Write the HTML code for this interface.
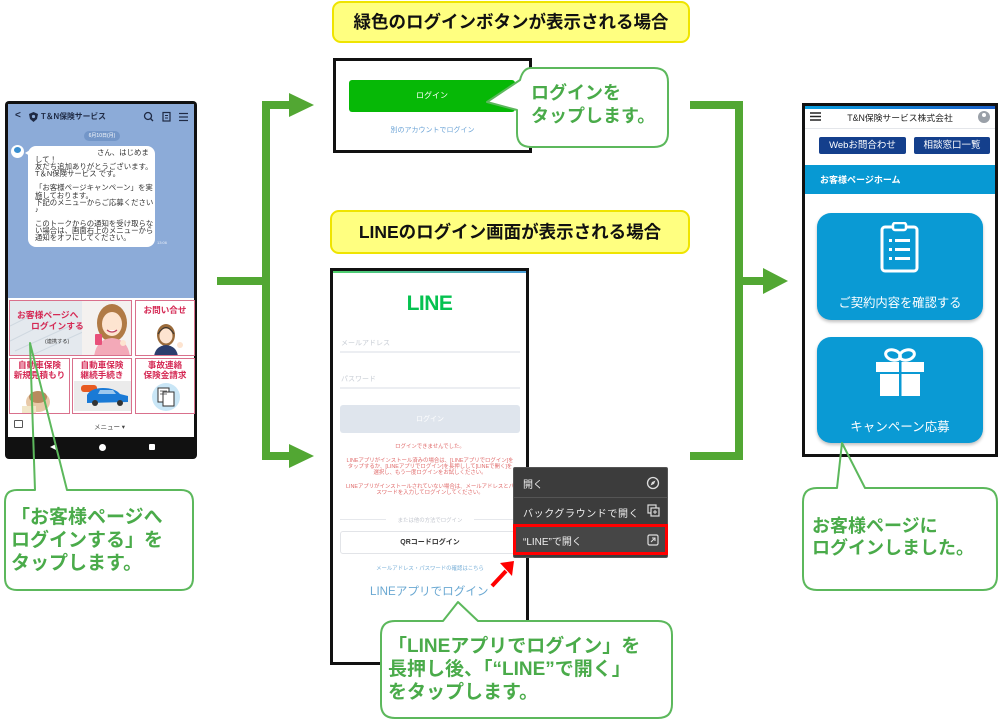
<!DOCTYPE html>
<html><head><meta charset="utf-8">
<style>
*{margin:0;padding:0;box-sizing:border-box}
body{width:1000px;height:720px;background:#fff;position:relative;overflow:hidden;font-family:"Liberation Sans","Noto Sans CJK JP",sans-serif}
.a{position:absolute}
.t{position:absolute;white-space:nowrap}
.lab{position:absolute;background:#ffff80;border:2px solid #efe400;border-radius:9px;text-align:center;font-weight:bold;font-size:17.5px;color:#111}
.cell{position:absolute;border:1.5px solid #d9708c;background:#fff;overflow:hidden}
.rt{position:absolute;white-space:nowrap;color:#d52a55;font-weight:bold;font-size:8.6px;line-height:10px;text-align:center}
.ct{position:absolute;white-space:nowrap;color:#4aab4a;font-weight:bold}
.red{position:absolute;left:333px;width:194px;text-align:center;white-space:nowrap;color:#e06a6a;font-size:5.4px;line-height:6px}
</style></head><body>

<!-- yellow labels -->
<div class="lab" style="left:332px;top:1px;width:358px;height:42px;line-height:38px;">緑色のログインボタンが表示される場合</div>
<div class="lab" style="left:330px;top:210px;width:360px;height:44px;line-height:40px;">LINEのログイン画面が表示される場合</div>

<!-- ========== LEFT PHONE ========== -->
<div class="a" style="left:5px;top:101px;width:192px;height:358px;background:#111;border-radius:4px;"></div>
<div class="a" style="left:8px;top:104px;width:186px;height:194px;background:#8cabd8;"></div>
<!-- header -->
<div class="t" style="left:15px;top:110px;font-size:10px;color:#1f2a44;font-weight:bold;">&lt;</div>
<svg class="a" style="left:29px;top:112px" width="9" height="10"><path d="M4.5 0 L9 2 L8 7 L4.5 10 L1 7 L0 2Z" fill="#1f2a44"/><circle cx="4.5" cy="4.5" r="1.6" fill="#8cabd8"/></svg>
<div class="t" style="left:41px;top:111px;font-size:7.8px;color:#1f2a44;font-weight:bold;">T＆N保険サービス</div>
<svg class="a" style="left:143px;top:111px" width="48" height="12">
<circle cx="5" cy="5" r="3.5" fill="none" stroke="#1f2a44" stroke-width="1.3"/><line x1="7.5" y1="7.5" x2="10" y2="10" stroke="#1f2a44" stroke-width="1.3"/>
<rect x="20" y="1.5" width="7" height="8.5" fill="none" stroke="#1f2a44" stroke-width="1.2"/><line x1="22" y1="4.5" x2="25" y2="4.5" stroke="#1f2a44"/><line x1="22" y1="7" x2="25" y2="7" stroke="#1f2a44"/>
<line x1="36" y1="2.5" x2="45" y2="2.5" stroke="#1f2a44" stroke-width="1.2"/><line x1="36" y1="6" x2="45" y2="6" stroke="#1f2a44" stroke-width="1.2"/><line x1="36" y1="9.5" x2="45" y2="9.5" stroke="#1f2a44" stroke-width="1.2"/>
</svg>
<div class="a" style="left:84px;top:131px;width:36px;height:10px;border-radius:5px;background:#7396c8;"></div>
<div class="t" style="left:84px;top:132px;width:36px;text-align:center;font-size:5px;line-height:8px;color:#fff;">6月10日(月)</div>
<!-- avatar -->
<div class="a" style="left:11px;top:145px;width:13px;height:13px;border-radius:50%;background:#fff;"></div>
<div class="a" style="left:14px;top:147px;width:7px;height:6px;border-radius:50%;background:#3a8fd0;"></div>
<!-- bubble -->
<div class="a" style="left:28px;top:146px;width:127px;height:101px;background:#fff;border-radius:8px;"></div>
<div class="a" style="left:25px;top:150px;width:0;height:0;border-top:3px solid transparent;border-bottom:3px solid transparent;border-right:5px solid #fff;"></div>
<div class="t" style="left:35px;top:149px;font-size:7.4px;line-height:7.1px;color:#333;">
<span style="padding-left:62px">さん、はじめま</span><br>して！<br>友だち追加ありがとうございます。<br>T＆N保険サービス です。<br><br>「お客様ページキャンペーン」を実<br>施しております。<br>下記のメニューからご応募ください<br>♪<br><br>このトークからの通知を受け取らな<br>い場合は、画面右上のメニューから<br>通知をオフにしてください。</div>
<div class="t" style="left:157px;top:240px;font-size:4px;color:#e8eef8;">13:06</div>
<!-- menu area -->
<div class="a" style="left:8px;top:298px;width:186px;height:139px;background:#fff;"></div>
<!-- big cell -->
<div class="cell" style="left:9px;top:300px;width:123px;height:56px;background:#e4e9ee;">
 <svg class="a" style="left:0;top:0" width="123" height="56">
  <path d="M0 40 L40 20 M5 50 L60 25 M20 55 L75 30 M0 25 L30 10" stroke="#cfd8e0" stroke-width="1"/>
  <rect x="72" y="0" width="51" height="56" fill="#f4f1ef"/>
  <ellipse cx="102" cy="22" rx="15" ry="19" fill="#b07a45"/>
  <path d="M84 56 Q86 38 102 37 Q118 38 120 56Z" fill="#f3a9b8"/>
  <ellipse cx="102" cy="23" rx="10" ry="12" fill="#fde4d0"/>
  <path d="M92 14 Q102 4 112 14 Q108 9 102 10 Q96 10 92 16Z" fill="#b07a45"/>
  <path d="M97 29 Q102 33 107 29" stroke="#c04060" stroke-width="1.2" fill="#fff"/>
  <rect x="85" y="33" width="7" height="11" rx="1" fill="#e8507a"/>
  <circle cx="113" cy="42" r="3" fill="#fde4d0"/>
 </svg>
</div>
<div class="rt" style="left:17px;top:310px;font-size:8.8px;">お客様ページへ</div>
<div class="rt" style="left:31px;top:321px;font-size:8.8px;">ログインする</div>
<div class="t" style="left:45px;top:338px;font-size:5.2px;color:#333;">(連携する)</div>
<!-- contact cell -->
<div class="cell" style="left:135px;top:300px;width:60px;height:56px;">
 <svg class="a" style="left:0;top:0" width="60" height="56">
  <ellipse cx="30" cy="34" rx="9" ry="11" fill="#9a6a3a"/>
  <path d="M18 56 Q19 45 30 44 Q41 45 42 56Z" fill="#2c3e6e"/>
  <ellipse cx="30" cy="35" rx="6.5" ry="7.5" fill="#fde4d0"/>
  <path d="M22 33 Q30 20 38 33" stroke="#333" stroke-width="1" fill="none"/>
  <circle cx="44" cy="44" r="3" fill="#fde4d0"/>
 </svg>
</div>
<div class="rt" style="left:135px;top:305px;width:60px;">お問い合せ</div>
<!-- row 2 -->
<div class="cell" style="left:9px;top:358px;width:61px;height:56px;">
 <svg class="a" style="left:0;top:0" width="61" height="56">
  <ellipse cx="28" cy="43" rx="12" ry="10" fill="#e8c9a8"/>
  <ellipse cx="28" cy="38" rx="9" ry="6" fill="#b88a5e"/>
  <rect x="12" y="47" width="14" height="8" fill="#f1e6c8"/>
 </svg>
</div>
<div class="rt" style="left:10px;top:360px;width:59px;">自動車保険<br>新規見積もり</div>
<div class="cell" style="left:72px;top:358px;width:60px;height:56px;">
 <svg class="a" style="left:0;top:0" width="60" height="56">
  <rect x="1" y="22" width="57" height="30" fill="#ebebeb"/>
  <rect x="8" y="26" width="16" height="7" rx="3" fill="#e85a20"/>
  <path d="M14 36 Q18 29 30 29 Q42 29 47 35 L55 37 L55 43 L14 44Z" fill="#1a7ad6"/>
  <circle cx="22" cy="44" r="3" fill="#333"/><circle cx="47" cy="44" r="3" fill="#333"/>
  <path d="M27 31 L40 31 L43 35 L25 35Z" fill="#9cc8ee"/>
 </svg>
</div>
<div class="rt" style="left:72px;top:360px;width:60px;">自動車保険<br>継続手続き</div>
<div class="cell" style="left:135px;top:358px;width:60px;height:56px;">
 <svg class="a" style="left:0;top:0" width="60" height="56">
  <circle cx="30" cy="38" r="14" fill="#c9e6f6"/>
  <rect x="22" y="29" width="11" height="14" fill="#fff" stroke="#333" stroke-width="1"/>
  <rect x="27" y="33" width="11" height="14" fill="#fff" stroke="#333" stroke-width="1"/>
  <line x1="24" y1="32" x2="31" y2="32" stroke="#333" stroke-width=".7"/><line x1="24" y1="35" x2="31" y2="35" stroke="#333" stroke-width=".7"/>
 </svg>
</div>
<div class="rt" style="left:135px;top:360px;width:60px;">事故連絡<br>保険金請求</div>
<!-- menu bar -->
<div class="a" style="left:14px;top:420px;width:9px;height:8px;border:1px solid #555;border-radius:1px;"></div>
<div class="t" style="left:94px;top:421px;font-size:6.5px;color:#444;">メニュー ▾</div>
<!-- nav -->
<div class="a" style="left:99px;top:444px;width:7px;height:7px;border-radius:50%;background:#fff;"></div>
<div class="a" style="left:149px;top:444px;width:6px;height:6px;background:#fff;border-radius:1px;"></div>
<div class="a" style="left:50px;top:444px;width:0;height:0;border-top:3.5px solid transparent;border-bottom:3.5px solid transparent;border-right:6px solid #fff;"></div>

<!-- ========== MIDDLE TOP ========== -->
<div class="a" style="left:333px;top:58px;width:199px;height:95px;border:3px solid #111;background:#fff;"></div>
<div class="a" style="left:349px;top:80px;width:166px;height:32px;background:#06b806;border-radius:3px;"></div>
<div class="t" style="left:349px;top:90px;width:166px;text-align:center;font-size:8px;color:#fff;">ログイン</div>
<div class="t" style="left:333px;top:125px;width:199px;text-align:center;font-size:7px;color:#6ba3d6;">別のアカウントでログイン</div>

<!-- ========== MIDDLE BOTTOM ========== -->
<div class="a" style="left:330px;top:268px;width:199px;height:397px;border:3px solid #111;background:#fff;"></div>
<div class="a" style="left:333px;top:271px;width:193px;height:2px;background:linear-gradient(90deg,#4fd06a,#4a9fd8);"></div>
<div class="t" style="left:330px;top:292px;width:199px;text-align:center;font-size:21px;font-weight:bold;color:#06c250;letter-spacing:-0.5px;font-family:'Liberation Sans',sans-serif;">LINE</div>
<div class="t" style="left:341px;top:338px;font-size:7px;color:#c9ced6;">メールアドレス</div>
<div class="a" style="left:340px;top:351px;width:180px;height:1.5px;background:#eceef2;"></div>
<div class="t" style="left:341px;top:374px;font-size:7px;color:#c9ced6;">パスワード</div>
<div class="a" style="left:340px;top:387px;width:180px;height:1.5px;background:#eceef2;"></div>
<div class="a" style="left:340px;top:405px;width:180px;height:28px;background:#dfe5ed;border-radius:3px;"></div>
<div class="t" style="left:340px;top:414px;width:180px;text-align:center;font-size:7px;color:#fff;">ログイン</div>
<div class="red" style="top:444px;">ログインできませんでした。</div>
<div class="red" style="top:458px;">LINEアプリがインストール済みの場合は、[LINEアプリでログイン]を<br>タップするか、[LINEアプリでログイン]を長押しして[LINEで開く]を<br>選択し、もう一度ログインをお試しください。</div>
<div class="red" style="top:484px;">LINEアプリがインストールされていない場合は、メールアドレスとパ<br>スワードを入力してログインしてください。</div>
<div class="a" style="left:340px;top:519px;width:46px;height:1px;background:#e6e8ec;"></div>
<div class="a" style="left:474px;top:519px;width:46px;height:1px;background:#e6e8ec;"></div>
<div class="t" style="left:333px;top:516px;width:194px;text-align:center;font-size:5.4px;color:#c2c6ce;">または他の方法でログイン</div>
<div class="a" style="left:340px;top:531px;width:180px;height:23px;border:1px solid #e2e4e8;border-radius:3px;"></div>
<div class="t" style="left:340px;top:537px;width:180px;text-align:center;font-size:7px;font-weight:bold;color:#333;">QRコードログイン</div>
<div class="t" style="left:333px;top:564px;width:194px;text-align:center;font-size:5.4px;color:#7ab0d8;">メールアドレス・パスワードの確認はこちら</div>
<div class="t" style="left:370px;top:583px;font-size:11.6px;color:#6aa8d2;">LINEアプリでログイン</div>

<!-- context menu -->
<div class="a" style="left:513px;top:467px;width:155px;height:91px;background:#3c3c3c;border:1px solid #555;border-radius:2px;"></div>
<div class="a" style="left:514px;top:497px;width:153px;height:1px;background:#555;"></div>
<div class="t" style="left:523px;top:476px;font-size:10px;color:#eee;">開く</div>
<div class="t" style="left:523px;top:505px;font-size:10px;color:#eee;letter-spacing:0.6px;">バックグラウンドで開く</div>
<div class="a" style="left:513px;top:524px;width:155px;height:31px;border:3px solid #f00;background:#464646;"></div>
<div class="t" style="left:523px;top:533px;font-size:10px;color:#eee;">“LINE”で開く</div>
<svg class="a" style="left:645px;top:475px" width="18" height="74">
 <circle cx="8" cy="8" r="5.5" fill="none" stroke="#ddd" stroke-width="1.3"/><path d="M10.5 5.5 L7 7 L5.5 10.5 L9 9Z" fill="#ddd"/>
 <rect x="3" y="30" width="8" height="8" fill="none" stroke="#ddd" stroke-width="1.2"/><rect x="6" y="33" width="8" height="8" fill="#3c3c3c" stroke="#ddd" stroke-width="1.2"/><path d="M10 35 v4 M8 37 h4" stroke="#ddd"/>
 <rect x="3" y="60" width="10" height="10" rx="1.5" fill="none" stroke="#ddd" stroke-width="1.2"/><path d="M6 67 L10 63 M7 63 H10 V66" stroke="#ddd" stroke-width="1.1" fill="none"/>
</svg>

<!-- ========== RIGHT PHONE ========== -->
<div class="a" style="left:802px;top:103px;width:196px;height:354px;border:3px solid #111;background:#fff;"></div>
<div class="a" style="left:805px;top:106px;width:190px;height:3px;background:linear-gradient(90deg,#0aa0e0,#1a5fc8);"></div>
<svg class="a" style="left:810px;top:112px" width="12" height="9"><path d="M0 1h11M0 4.5h11M0 8h11" stroke="#222" stroke-width="1.5"/></svg>
<div class="t" style="left:805px;top:111px;width:190px;text-align:center;font-size:8.8px;color:#222;">T&amp;N保険サービス株式会社</div>
<div class="a" style="left:978px;top:111px;width:12px;height:12px;border-radius:50%;background:#9aa0a8;"></div>
<div class="a" style="left:982px;top:113px;width:4px;height:4px;border-radius:50%;background:#fff;"></div>
<div class="a" style="left:805px;top:128px;width:190px;height:1px;background:#e4e6ea;"></div>
<div class="a" style="left:819px;top:137px;width:87px;height:17px;background:#143f8c;border-radius:2px;color:#fff;font-size:9.5px;text-align:center;line-height:17px;">Webお問合わせ</div>
<div class="a" style="left:914px;top:137px;width:76px;height:17px;background:#143f8c;border-radius:2px;color:#fff;font-size:9.5px;text-align:center;line-height:17px;">相談窓口一覧</div>
<div class="a" style="left:805px;top:165px;width:190px;height:29px;background:#0799d3;"></div>
<div class="t" style="left:820px;top:173px;font-size:9px;font-weight:bold;color:#fff;">お客様ページホーム</div>
<div class="a" style="left:817px;top:213px;width:166px;height:107px;background:#0a9ad4;border-radius:14px;box-shadow:0 2px 3px rgba(0,0,0,.25);"></div>
<div class="t" style="left:817px;top:293px;width:166px;text-align:center;font-size:12.3px;color:#fff;">ご契約内容を確認する</div>
<svg class="a" style="left:878px;top:222px" width="44" height="52">
 <rect x="4" y="5" width="35" height="44" rx="3" fill="none" stroke="#fff" stroke-width="3"/>
 <rect x="15" y="1" width="13" height="7" rx="2" fill="#0a9ad4" stroke="#fff" stroke-width="2.5"/>
 <rect x="11" y="17" width="3" height="3" fill="#fff"/><rect x="17" y="17" width="15" height="3" fill="#fff"/>
 <rect x="11" y="26" width="3" height="3" fill="#fff"/><rect x="17" y="26" width="15" height="3" fill="#fff"/>
 <rect x="11" y="35" width="3" height="3" fill="#fff"/><rect x="17" y="35" width="15" height="3" fill="#fff"/>
</svg>
<div class="a" style="left:817px;top:337px;width:166px;height:106px;background:#0a9ad4;border-radius:14px;box-shadow:0 2px 3px rgba(0,0,0,.25);"></div>
<div class="t" style="left:817px;top:416px;width:166px;text-align:center;font-size:12.5px;color:#fff;">キャンペーン応募</div>
<svg class="a" style="left:874px;top:346px" width="54" height="52">
 <ellipse cx="19" cy="9" rx="7.5" ry="5" fill="none" stroke="#fff" stroke-width="3" transform="rotate(15 19 9)"/>
 <ellipse cx="33" cy="9" rx="7.5" ry="5" fill="none" stroke="#fff" stroke-width="3" transform="rotate(-15 33 9)"/>
 <rect x="2" y="16" width="48" height="10" fill="#fff"/>
 <rect x="6" y="28" width="40" height="22" fill="#fff"/>
 <rect x="25" y="16" width="2.5" height="34" fill="#0a9ad4"/>
</svg>

<!-- ========== CONNECTORS & CALLOUTS ========== -->
<svg class="a" style="left:0;top:0" width="1000" height="720">
 <g fill="#52a733">
  <rect x="217" y="277" width="50" height="8"/>
  <rect x="262" y="101" width="8" height="359"/>
  <rect x="262" y="101" width="30" height="8"/>
  <rect x="262" y="452" width="30" height="8"/>
  <polygon points="289,93 314,105 289,117"/>
  <polygon points="289,444 314,456 289,468"/>
  <rect x="690" y="101" width="53" height="8"/>
  <rect x="735" y="101" width="8" height="359"/>
  <rect x="690" y="452" width="53" height="8"/>
  <rect x="743" y="277" width="22" height="8"/>
  <polygon points="763,268 788,281 763,294"/>
 </g>
 <g stroke="#5cb85c" stroke-width="2" stroke-linejoin="round">
  <path d="M531 68 L654 68 Q668 68 668 82 L668 133 Q668 147 654 147 L531 147 Q517 147 517 133 L517 110 L487 102 L520 80 Q523 68 531 68Z" fill="#fff"/>
  <path d="M17 490 L35 490 L30 343 L67 490 L181 490 Q193 490 193 502 L193 578 Q193 590 181 590 L17 590 Q5 590 5 578 L5 502 Q5 490 17 490Z" fill="none"/>
  <path d="M817 488 L837 488 L842 443 L865 488 L983 488 Q997 488 997 502 L997 576 Q997 590 983 590 L817 590 Q803 590 803 576 L803 502 Q803 488 817 488Z" fill="none"/>
  <path d="M395 621 L443 621 L458 602 L478 621 L658 621 Q672 621 672 635 L672 704 Q672 718 658 718 L395 718 Q381 718 381 704 L381 635 Q381 621 395 621Z" fill="#fff"/>
 </g>
 <!-- red arrow -->
 <line x1="492" y1="586" x2="506" y2="571" stroke="#f00" stroke-width="4"/>
 <polygon points="500,563 514,561 512,576" fill="#f00"/>
</svg>

<!-- callout texts -->
<div class="ct" style="left:531px;top:82px;font-size:18px;line-height:23px;">ログインを<br>タップします。</div>
<div class="ct" style="left:11px;top:506px;font-size:19px;line-height:23px;">「お客様ページへ<br>ログインする」を<br>タップします。</div>
<div class="ct" style="left:812px;top:515px;font-size:18px;line-height:22px;">お客様ページに<br>ログインしました。</div>
<div class="ct" style="left:388px;top:635px;font-size:19px;line-height:23px;">「LINEアプリでログイン」を<br>長押し後、「“LINE”で開く」<br>をタップします。</div>

</body></html>
